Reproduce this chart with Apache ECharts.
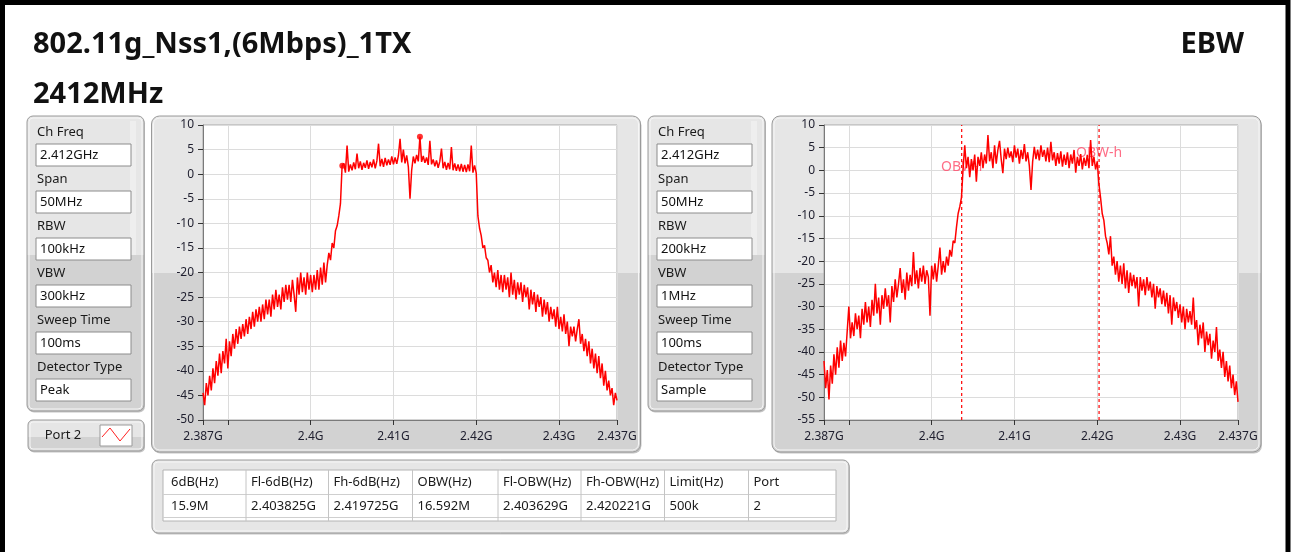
<!DOCTYPE html>
<html><head><meta charset="utf-8">
<script src="https://cdn.jsdelivr.net/npm/echarts@6/dist/echarts.min.js"></script>
<style>html,body{margin:0;padding:0;background:#fff}#c{width:1292px;height:552px}</style>
</head><body><div id="c"></div>
<script>
const titleText = '802.11g_Nss1,(6Mbps)_1TX';
const freqText = '2412MHz';
const modeText = 'EBW';
const paramLabels = ['Ch Freq','Span','RBW','VBW','Sweep Time','Detector Type'];
const leftParams = ['2.412GHz','50MHz','100kHz','300kHz','100ms','Peak'];
const rightParams = ['2.412GHz','50MHz','200kHz','1MHz','100ms','Sample'];
const portLabel = 'Port 2';
const tableHeaders = ['6dB(Hz)','Fl-6dB(Hz)','Fh-6dB(Hz)','OBW(Hz)','Fl-OBW(Hz)','Fh-OBW(Hz)','Limit(Hz)','Port'];
const tableValues = ['15.9M','2.403825G','2.419725G','16.592M','2.403629G','2.420221G','500k','2'];
const xTickMHz = [2387,2390,2400,2410,2420,2430,2437];
const xLabelMHz = [2387,2400,2410,2420,2430,2437];
const sweepStartMHz = 2387, sweepStepMHz = 0.2;
const peakTrace = [
-44.5,-47,-42.5,-45,-41,-44,-39.5,-42.5,-38,-41,
-36.5,-40.5,-36,-38.5,-33.5,-39.5,-34,-37,-32.5,-35.5,
-31.5,-34.5,-31,-33.5,-30.5,-33,-29.5,-32.5,-29,-31.5,
-28,-31,-27.5,-30,-27,-30,-26.5,-29.5,-25.5,-28.5,
-25.5,-29,-24.5,-27.5,-23.5,-27,-24.5,-27.5,-23,-26,
-22.5,-25.5,-22.5,-26,-21.5,-24.5,-28,-21,-24.5,-20,
-24,-21,-24.5,-20,-23.5,-20.5,-24,-20.5,-23.5,-19.5,
-23.5,-19,-22.5,-18,-22,-18.5,-16,-17.5,-14,-15,
-11.5,-10.5,-8.5,-6,1.7,2.2,0.3,5.8,0.5,2.0,
0.8,2.4,1.0,4.2,1.2,2.6,0.9,2.3,1.3,2.8,
1.1,2.5,1.4,3.0,1.2,2.7,6.2,1.6,3.1,1.5,
3.3,1.8,3.0,1.9,3.6,2.0,3.4,2.1,3.8,7.2,
2.4,5.0,2.2,3.8,1.5,-5.0,0.8,3.6,2.2,3.9,
2.6,7.6,2.5,3.7,2.3,3.4,1.9,6.8,2.0,3.0,
1.6,2.8,1.3,2.6,5.2,1.2,2.5,0.9,2.3,1.0,
5.5,0.8,2.2,0.7,2.0,0.6,2.1,0.5,1.9,0.4,
2.0,0.6,5.8,0.3,1.8,0.2,-8.5,-11,-12.5,-15,
-14.5,-17,-17.5,-20,-18.5,-22,-20,-23,-19.5,-23.5,
-20.5,-24,-20.5,-23.5,-21,-25,-20,-24.5,-21.5,-25.5,
-22,-24.5,-22,-26,-22.5,-25,-23,-27.5,-23.5,-26.5,
-24,-28,-24.5,-27,-25,-29,-25.5,-28.5,-26,-30,
-27,-29.5,-27.5,-31,-27,-31.5,-29,-32,-28.5,-32.5,
-30,-35,-31,-33,-31,-34,-31.5,-29.5,-34.5,-32.5,
-36,-33.5,-37,-34,-38.5,-35.5,-39.5,-36.5,-40.5,-37,
-41.5,-38.5,-43,-40,-44,-42,-45,-43.5,-47,-44.5,
-46];
const sampleTrace = [
-42,-48,-44,-50.5,-43,-47,-40.5,-45,-39,-43.5,
-37.5,-42,-38,-41,-35.5,-30,-37,-33.5,-36.5,-31.5,
-35,-32,-37,-30.5,-34,-29,-33.5,-30,-34.5,-28.5,
-32,-25,-31.5,-28,-34,-27.5,-30.5,-26,-30,-27.5,
-33.5,-25.5,-29,-24,-28,-25,-21.5,-27,-24,-28.5,
-22.5,-26.5,-23,-25.5,-18,-25,-22,-26,-21.5,-24.5,
-21,-25,-22,-23.5,-32,-21,-24,-20.5,-24.5,-21,
-17,-23,-20,-22.5,-19,-21,-17.5,-19,-15.5,-16,
-12.5,-9.5,-8,-6,0.5,5.5,0.5,3.0,-1.5,2.5,
0.0,3.5,-2.5,3.0,1.0,4.0,0.5,3.5,1.5,7.8,
2.0,4.0,0.5,5.5,1.5,4.5,6.5,2.5,-0.6,4.8,
2.5,5.0,2.8,4.2,1.8,5.5,2.8,4.8,1.5,4.5,
2.5,5.8,2.0,4.0,1.0,-4.3,2.0,5.2,2.5,4.6,
2.2,5.5,3.0,4.5,2.0,5.0,1.8,6.3,2.2,4.0,
1.0,3.8,1.5,4.2,0.8,3.5,1.2,4.0,0.5,3.5,
1.5,4.5,-0.5,3.0,1.0,3.6,0.2,2.8,1.0,3.4,
0.5,6.7,1.0,3.0,0.2,2.0,-3,-6,-9.5,-11,
-14.5,-16,-18.5,-14.5,-21,-19,-23,-20,-24.5,-21,
-25,-20.5,-26,-22,-27,-22.5,-25.5,-23,-26,-23.5,
-30,-23.5,-26.5,-24,-27.5,-23.5,-26.5,-24.5,-28,-25,
-30.5,-25.5,-28,-26,-29.5,-26.5,-30,-27,-31.5,-27.5,
-34,-28,-31,-29,-32.5,-29.5,-33.5,-30,-35,-30.5,
-33.5,-31,-34,-28,-35,-33,-38.5,-34,-37,-33.5,
-40,-35.5,-38.5,-36,-41.5,-37.5,-40,-34.5,-42,-39.5,
-43.5,-40,-45.5,-42,-46.5,-43,-48,-45,-49.5,-46.5,
-51];
const leftMarkers = [[2403.825, 1.7],[2413.2, 7.6]];
const obwLinesMHz = [2403.629, 2420.221];
const obwLabels = ['OBW-l','OBW-h'];
const obwLabelLevels = [0.8, 3.9];
const rightYMin = -55, yMax = 10;

const toXY = arr => arr.map((v,i)=>[+(sweepStartMHz + i*sweepStepMHz).toFixed(3), v]);
const FONT = '"Noto Sans", "DejaVu Sans", sans-serif';
const LG = echarts.graphic.LinearGradient;
function stepFill(top, bottom, at){
  return new LG(0,0,0,1,[{offset:0,color:top},{offset:at,color:top},{offset:at,color:bottom},{offset:1,color:bottom}]);
}
const G = [];
function frame(x,y,w,h,splitY,r){
  const at = splitY==null ? 1 : (splitY-y)/h;
  G.push({type:'rect', z:0, shape:{x:x+1,y:y+1.5,width:w,height:h,r:r}, style:{fill:'#c4c4c4'}});
  G.push({type:'rect', z:0, shape:{x:x,y:y,width:w,height:h,r:r}, style:{fill:stepFill('#e6e6e6','#d2d2d2',at), stroke:'#9a9a9a', lineWidth:1}});
  G.push({type:'rect', z:0, shape:{x:x+2,y:y+2,width:w-4,height:h-4,r:Math.max(r-2,1)}, style:{fill:'none', stroke:'#f6f6f6', lineWidth:1}});
}
function txt(x,y,t,font,fill,align){
  G.push({type:'text', z:1, x:x, y:y, style:{text:t, font:font, fill:fill||'#1a1a1a', align:align||'left', verticalAlign:'middle'}});
}
// outer black frame
G.push({type:'rect', z:0, shape:{x:2.5,y:2.5,width:1285.5,height:700}, style:{fill:'none', stroke:'#000', lineWidth:5}});
// titles
txt(33,45,titleText,'bold 29px '+FONT,'#111');
txt(33,95,freqText,'bold 29px '+FONT,'#111');
txt(1244,45,modeText,'bold 29px '+FONT,'#111','right');
// settings panels
function settings(px, vals){
  frame(px,116,117,295,255,6);
  G.push({type:'rect', z:0, shape:{x:px+103,y:121,width:6,height:134}, style:{fill:'#eeeeee'}});
  paramLabels.forEach((lab,k)=>{
    txt(px+10, 132.5+47*k, lab, '13px '+FONT, '#1a1a1a');
    G.push({type:'rect', z:1, shape:{x:px+9,y:144+47*k,width:95,height:22}, style:{fill:'#fff', stroke:'#8c8c8c', lineWidth:1}});
    txt(px+13, 155.5+47*k, vals[k], '13px '+FONT, '#111');
  });
}
settings(27, leftParams);
settings(648, rightParams);
// port button
frame(28,420,116,31,437,5);
txt(63,435,portLabel,'13px '+FONT,'#1a1a1a','center');
G.push({type:'rect', z:1, shape:{x:100,y:425,width:32,height:21}, style:{fill:'#fff', stroke:'#9a9a9a', lineWidth:1}});
G.push({type:'polyline', z:1, shape:{points:[[102,437],[110,428],[120,441],[130,429]]}, style:{stroke:'#ff2020', lineWidth:1, fill:'none'}});
// chart frames
frame(151.5,116,489,336,273,8);
frame(772,116,489,336,273,8);
// table
frame(152,460,697,73,null,6);
const colX = [163,246,328.5,412.5,498,581,664.5,748.5,836];
G.push({type:'rect', z:1, shape:{x:163,y:470,width:673,height:51}, style:{fill:'#fff', stroke:'#b4b4b4', lineWidth:1}});
[494.5,517.5].forEach(yy=>G.push({type:'line', z:1, shape:{x1:163,y1:yy,x2:836,y2:yy}, style:{stroke:'#cfcfcf', lineWidth:1}}));
colX.slice(1,-1).forEach(xx=>G.push({type:'line', z:1, shape:{x1:xx,y1:470,x2:xx,y2:521}, style:{stroke:'#c4c4c4', lineWidth:1}}));
tableHeaders.forEach((h,k)=>{
  txt(colX[k]+(k===0?8:5), 482.5, h, '13px '+FONT, '#1a1a1a');
  txt(colX[k]+(k===0?8:5), 506.5, tableValues[k], '13px '+FONT, '#1a1a1a');
});

function xAxisCfg(gi){ return {type:'value', gridIndex:gi, min:2387, max:2437, z:3,
  axisLine:{show:true, onZero:false, lineStyle:{color:'#7a7a7a'}},
  axisTick:{show:true, length:5, inside:false, customValues:xTickMHz, lineStyle:{color:'#333'}},
  axisLabel:{customValues:xLabelMHz, formatter: v => (v/1000)+'G', color:'#1e1e2e', fontFamily:FONT, fontSize:12, margin:11},
  splitLine:{show:true, lineStyle:{color:'#dcdcdc', width:1}}}; }
function yAxisCfg(gi,min){ return {type:'value', gridIndex:gi, min:min, max:yMax, interval:5, z:3,
  axisLine:{show:true, onZero:false, lineStyle:{color:'#7a7a7a'}},
  axisTick:{show:true, length:5, inside:false, lineStyle:{color:'#333'}},
  axisLabel:{color:'#1e1e2e', fontFamily:FONT, fontSize:12, margin:9},
  splitLine:{show:true, lineStyle:{color:'#dcdcdc', width:1}}}; }

const obwSeries = obwLinesMHz.map(v=>({type:'line', xAxisIndex:1, yAxisIndex:1, z:4.5, silent:true,
  data:[[v, rightYMin],[v, yMax]], showSymbol:false, symbol:'none',
  lineStyle:{color:'#ff0000', type:[3,3], width:1.2}, itemStyle:{color:'#ff0000'}}));

const chart = echarts.init(document.getElementById('c'), null, {renderer:'canvas'});
chart.setOption({
  animation:false,
  backgroundColor:'#fff',
  graphic:{elements:G},
  grid:[
    {left:203, top:125, width:414, height:295, show:true, backgroundColor:'#fff', borderColor:'#a8a8a8', borderWidth:1, z:3, outerBoundsMode:'none'},
    {left:824, top:125, width:414, height:295, show:true, backgroundColor:'#fff', borderColor:'#a8a8a8', borderWidth:1, z:3, outerBoundsMode:'none'}
  ],
  xAxis:[xAxisCfg(0), xAxisCfg(1)],
  yAxis:[yAxisCfg(0,-50), yAxisCfg(1,rightYMin)],
  series:[
    {type:'line', xAxisIndex:0, yAxisIndex:0, data:toXY(peakTrace), showSymbol:false, symbol:'none', z:4,
     lineStyle:{color:'#ff0000', width:1.5}, itemStyle:{color:'#ff0000'}},
    {type:'scatter', xAxisIndex:0, yAxisIndex:0, data:leftMarkers, symbolSize:6, z:5, itemStyle:{color:'#ff0000'}},
    {type:'scatter', xAxisIndex:1, yAxisIndex:1, z:3.5, symbolSize:0,
     data:obwLinesMHz.map((v,i)=>[v, obwLabelLevels[i]]),
     label:{show:true, position:'inside', formatter:p=>obwLabels[p.dataIndex], color:'#ff4868', fontFamily:FONT, fontSize:14}},
    {type:'line', xAxisIndex:1, yAxisIndex:1, data:toXY(sampleTrace), showSymbol:false, symbol:'none', z:4,
     lineStyle:{color:'#ff0000', width:1.5}, itemStyle:{color:'#ff0000'}}
  ].concat(obwSeries)
});
</script></body></html>
